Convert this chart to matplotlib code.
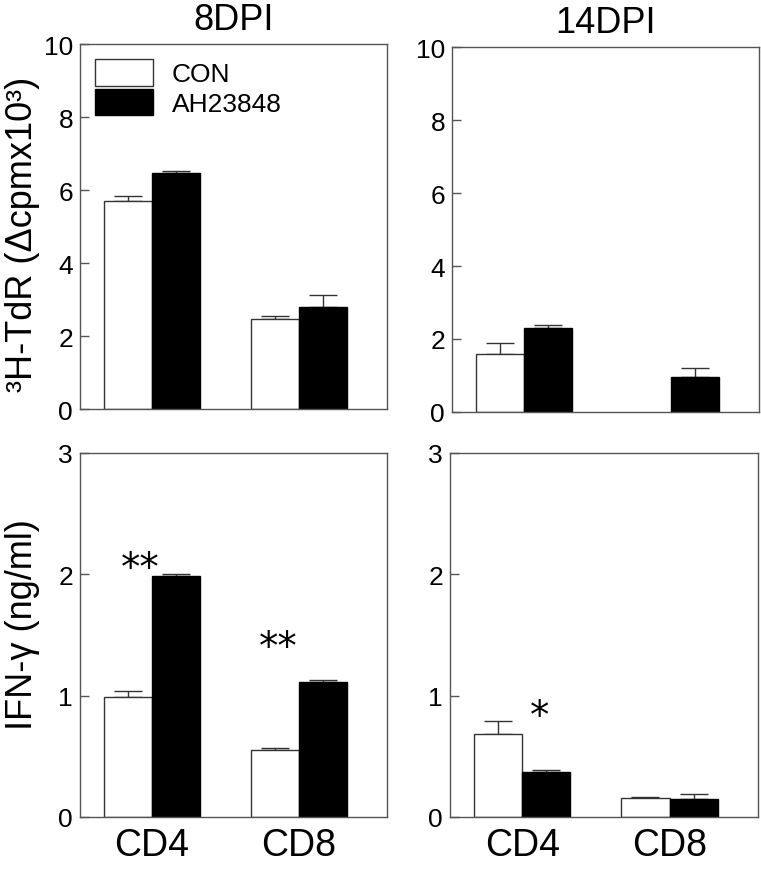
import numpy as np
import matplotlib
matplotlib.use("Agg")
import matplotlib.pyplot as plt
from matplotlib.patches import Patch

plt.rcParams["font.family"] = ["Liberation Sans", "DejaVu Sans"]

groups = ["CD4", "CD8"]
days = ["8DPI", "14DPI"]
series = ["CON", "AH23848"]

# 3H-TdR (top row)
tdr_8_con = [5.71, 2.48]
tdr_8_con_err = [0.12, 0.06]
tdr_8_ah = [6.46, 2.79]
tdr_8_ah_err = [0.06, 0.34]
tdr_14_con = [1.58, np.nan]
tdr_14_con_err = [0.31, np.nan]
tdr_14_ah = [2.29, 0.97]
tdr_14_ah_err = [0.08, 0.23]

# IFN-gamma (bottom row)
ifn_8_con = [0.99, 0.55]
ifn_8_con_err = [0.05, 0.02]
ifn_8_ah = [1.99, 1.11]
ifn_8_ah_err = [0.015, 0.02]
ifn_14_con = [0.68, 0.16]
ifn_14_con_err = [0.11, 0.005]
ifn_14_ah = [0.37, 0.15]
ifn_14_ah_err = [0.015, 0.04]

# significance marks
ifn_8_stars = ["**", "**"]
ifn_8_star_y = [2.05, 1.40]
ifn_8_star_dx = [-0.08, -0.14]
ifn_14_stars = ["*", ""]
ifn_14_star_y = [0.83, 0]
ifn_14_star_dx = [0.12, 0]

SPINE = "#555555"
x = np.arange(1, len(groups) + 1)
w = 0.327


def draw_panel(ax, con, con_err, ah, ah_err, ylim, yticks):
    ax.bar(x - w / 2, con, w, color="white", edgecolor="#333333", linewidth=1.0, zorder=2)
    ax.bar(x + w / 2, ah, w, color="black", edgecolor="black", linewidth=1.0, zorder=2)
    for xs, vals, errs in [(x - w / 2, con, con_err), (x + w / 2, ah, ah_err)]:
        vals = np.asarray(vals, dtype=float)
        errs = np.asarray(errs, dtype=float)
        ok = ~np.isnan(vals)
        ax.errorbar(xs[ok], vals[ok], yerr=[np.zeros(ok.sum()), errs[ok]], fmt="none",
                    ecolor="#333333", elinewidth=1.0, capsize=10, capthick=1.0, zorder=1)
    ax.set_xlim(0.51, 2.60)
    ax.set_ylim(*ylim)
    ax.set_yticks(yticks)
    ax.set_xticks(x)
    ax.set_xticklabels([])
    ax.tick_params(axis="y", direction="in", length=6.5, width=1.0, color=SPINE,
                   labelsize=19, pad=5)
    ax.tick_params(axis="x", length=0, labelsize=27, pad=7)
    for s in ax.spines.values():
        s.set_color(SPINE)
        s.set_linewidth(1.0)


fig = plt.figure(figsize=(7.61, 8.70), dpi=100)
ax_tl = fig.add_axes([0.1051, 0.5287, 0.4034, 0.4195])
ax_tr = fig.add_axes([0.5940, 0.5253, 0.4034, 0.4195])
ax_bl = fig.add_axes([0.1051, 0.0598, 0.4034, 0.4184])
ax_br = fig.add_axes([0.5913, 0.0598, 0.4047, 0.4184])

draw_panel(ax_tl, tdr_8_con, tdr_8_con_err, tdr_8_ah, tdr_8_ah_err, (0, 10), [0, 2, 4, 6, 8, 10])
draw_panel(ax_tr, tdr_14_con, tdr_14_con_err, tdr_14_ah, tdr_14_ah_err, (0, 10), [0, 2, 4, 6, 8, 10])
draw_panel(ax_bl, ifn_8_con, ifn_8_con_err, ifn_8_ah, ifn_8_ah_err, (0, 3), [0, 1, 2, 3])
draw_panel(ax_br, ifn_14_con, ifn_14_con_err, ifn_14_ah, ifn_14_ah_err, (0, 3), [0, 1, 2, 3])

ax_tl.set_title(days[0], fontsize=26, pad=11)
ax_tr.set_title(days[1], fontsize=26, pad=11)

ax_bl.set_xticklabels(groups)
ax_br.set_xticklabels(groups)

ax_tl.set_ylabel("³H-TdR (Δcpmx10³)", fontsize=26)
ax_tl.yaxis.set_label_coords(-0.13, 0.48)
ax_bl.set_ylabel("IFN-γ (ng/ml)", fontsize=26)
ax_bl.yaxis.set_label_coords(-0.13, 0.53)

for i, s in enumerate(ifn_8_stars):
    ax_bl.text(x[i] + ifn_8_star_dx[i], ifn_8_star_y[i], s, fontsize=28,
               ha="center", va="center", fontfamily="DejaVu Sans")
for i, s in enumerate(ifn_14_stars):
    if s:
        ax_br.text(x[i] + ifn_14_star_dx[i], ifn_14_star_y[i], s, fontsize=28,
                   ha="center", va="center", fontfamily="DejaVu Sans")

handles = [Patch(facecolor="white", edgecolor="#333333", linewidth=1.0),
           Patch(facecolor="black", edgecolor="black", linewidth=1.0)]
ax_tl.legend(handles, series, loc="upper left", frameon=False, fontsize=19,
             handlelength=2.2, handleheight=1.17, labelspacing=0.1,
             handletextpad=0.72, borderpad=0, borderaxespad=0.57)

fig.savefig("out.png", dpi=100)
